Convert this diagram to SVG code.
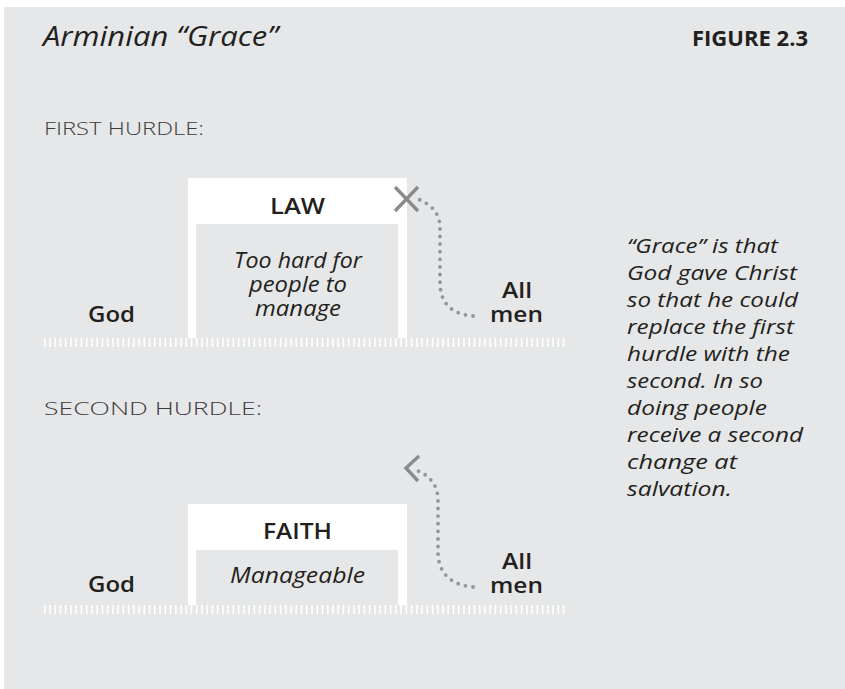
<svg xmlns="http://www.w3.org/2000/svg" width="845" height="689" viewBox="0 0 845 689">
  <defs>
    <style>
      .t { font-family: "Open Sans", "Liberation Sans", sans-serif; fill: #231f20; }
      .title { font-size: 27px; font-style: italic; }
      .fig { font-size: 21px; font-weight: 700; }
      .sec { font-size: 18px; font-weight: 300; fill: #3c3b3d; }
      .lbl { font-size: 22px; font-weight: 600; text-anchor: middle; }
      .it { font-size: 21px; font-style: italic; text-anchor: middle; }
      .para { font-size: 20px; font-style: italic; }
      .ground { stroke: #ffffff; stroke-width: 9; stroke-dasharray: 1.6 3.64; fill: none; }
      .dots { stroke: #939598; stroke-width: 3.8; stroke-linecap: round; stroke-dasharray: 0 7.6; fill: none; }
      .mark { stroke: #8a8b8d; stroke-width: 3.4; fill: none; }
      .frame { fill: #ffffff; }
      .inner { fill: #e6e7e8; }
    </style>
  </defs>
  <rect x="4" y="7" width="841" height="682" fill="#e6e7e8"/>

  <text class="t title" x="43" y="46" textLength="235" lengthAdjust="spacingAndGlyphs">Arminian “Grace”</text>
  <text class="t fig" x="808" y="46" text-anchor="end" textLength="116" lengthAdjust="spacingAndGlyphs">FIGURE 2.3</text>
  <text class="t sec" x="44" y="135" textLength="160" lengthAdjust="spacingAndGlyphs">FIRST HURDLE:</text>
  <text class="t sec" x="44" y="415" textLength="218" lengthAdjust="spacingAndGlyphs">SECOND HURDLE:</text>

  <g id="hurdle-law">
    <rect class="frame" x="188" y="178" width="219" height="160"/>
    <rect class="inner" x="196" y="224" width="202" height="114"/>
    <text class="t lbl" x="297.5" y="214" textLength="55" lengthAdjust="spacingAndGlyphs">LAW</text>
    <text class="t it" x="298" y="268" textLength="128" lengthAdjust="spacingAndGlyphs">Too hard for</text>
    <text class="t it" x="298" y="292" textLength="98" lengthAdjust="spacingAndGlyphs">people to</text>
    <text class="t it" x="298" y="316" textLength="86" lengthAdjust="spacingAndGlyphs">manage</text>
  </g>
  <g id="god-1"><text class="t lbl" x="111.5" y="322" textLength="47" lengthAdjust="spacingAndGlyphs">God</text></g>
  <g id="allmen-1">
    <text class="t lbl" x="517" y="298" textLength="30" lengthAdjust="spacingAndGlyphs">All</text>
    <text class="t lbl" x="516.5" y="322" textLength="53" lengthAdjust="spacingAndGlyphs">men</text>
  </g>
  <g id="ground-1"><line class="ground" x1="44" y1="342.5" x2="567" y2="342.5"/></g>

  <g id="hurdle-faith">
    <rect class="frame" x="188" y="504" width="219" height="101"/>
    <rect class="inner" x="196" y="550" width="202" height="55"/>
    <text class="t lbl" x="297.5" y="539" textLength="69" lengthAdjust="spacingAndGlyphs">FAITH</text>
    <text class="t it" x="297.5" y="583" textLength="135" lengthAdjust="spacingAndGlyphs">Manageable</text>
  </g>
  <g id="god-2"><text class="t lbl" x="111.5" y="592" textLength="47" lengthAdjust="spacingAndGlyphs">God</text></g>
  <g id="allmen-2">
    <text class="t lbl" x="517" y="569" textLength="30" lengthAdjust="spacingAndGlyphs">All</text>
    <text class="t lbl" x="516.5" y="593" textLength="53" lengthAdjust="spacingAndGlyphs">men</text>
  </g>
  <g id="ground-2"><line class="ground" x1="44" y1="609.5" x2="567" y2="609.5"/></g>

  <g id="note">
    <text class="t para" x="627" y="253" textLength="151" lengthAdjust="spacingAndGlyphs">“Grace” is that</text>
    <text class="t para" x="627" y="280" textLength="170" lengthAdjust="spacingAndGlyphs">God gave Christ</text>
    <text class="t para" x="627" y="307" textLength="171" lengthAdjust="spacingAndGlyphs">so that he could</text>
    <text class="t para" x="627" y="334" textLength="167" lengthAdjust="spacingAndGlyphs">replace the first</text>
    <text class="t para" x="627" y="361" textLength="163" lengthAdjust="spacingAndGlyphs">hurdle with the</text>
    <text class="t para" x="627" y="388" textLength="136" lengthAdjust="spacingAndGlyphs">second. In so</text>
    <text class="t para" x="627" y="415" textLength="140" lengthAdjust="spacingAndGlyphs">doing people</text>
    <text class="t para" x="627" y="442" textLength="176" lengthAdjust="spacingAndGlyphs">receive a second</text>
    <text class="t para" x="627" y="469" textLength="110" lengthAdjust="spacingAndGlyphs">change at</text>
    <text class="t para" x="627" y="496" textLength="105" lengthAdjust="spacingAndGlyphs">salvation.</text>
  </g>

  <g id="connectors">
    <path class="dots" d="M473 316 C450 314 440 302 440 282 L440 228 C440 212 430 204 418 199"/>
    <path class="mark" d="M395 187 L418 211 M418 187 L395 211"/>
    <path class="dots" d="M473 587 C450 585 438 572 438 552 L438 500 C438 484 428 473 412 469"/>
    <path class="mark" d="M419 456 L406 468 L418 481"/>
  </g>
</svg>
